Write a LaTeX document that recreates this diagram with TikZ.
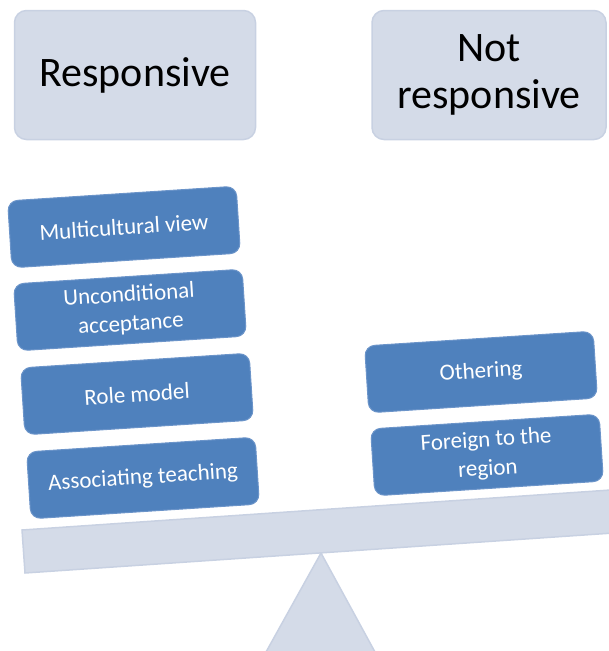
\documentclass[tikz,border=0pt]{standalone}
\usepackage{fontspec}
\setmainfont{Carlito}
\usetikzlibrary{positioning}
\definecolor{scalegray}{HTML}{D4DBE8}
\definecolor{scaleedge}{HTML}{C8D1E2}
\definecolor{itemblue}{HTML}{4F81BD}
\definecolor{itemedge}{HTML}{6B94C9}
\tikzset{
  headbox/.style={draw=scaleedge, line width=1.5pt, fill=scalegray,
    rounded corners=12pt, minimum width=241pt, minimum height=129pt,
    align=center, font=\fontsize{42}{47}\selectfont},
  itembox/.style={draw=itemedge, line width=1pt, fill=itemblue, text=white,
    rounded corners=10pt, minimum width=229pt, minimum height=67pt,
    align=center, rotate=3.7, font=\fontsize{23}{29}\selectfont},
  scalepart/.style={fill=scalegray, draw=scaleedge, line width=1.5pt}
}
\begin{document}
\begin{tikzpicture}[x=1pt,y=-1pt]
\useasboundingbox (0,0) rectangle (609,651);
\clip (0,0) rectangle (609,651);
% fulcrum and beam
\filldraw[scalepart] (321,553) -- (375,652) -- (266,652) -- cycle;
\filldraw[scalepart] (22,530) -- (640,488) -- (643,531) -- (25,573) -- cycle;
% headings
\node[headbox] (resp) at (135,75) {Responsive};
\node[headbox, minimum width=234pt] (notresp) at (489,75) {Not\\responsive};
% left pan
\node[itembox] (multi) at (124,227) {Multicultural view};
\node[itembox] (uncond) at (130,310) {Unconditional\\acceptance};
\node[itembox] (role) at (137,394) {Role model};
\node[itembox] (assoc) at (143,478) {Associating teaching};
% right pan
\node[itembox] (other) at (481,372) {Othering};
\node[itembox] (foreign) at (487,455) {Foreign to the\\region};
\end{tikzpicture}
\end{document}
